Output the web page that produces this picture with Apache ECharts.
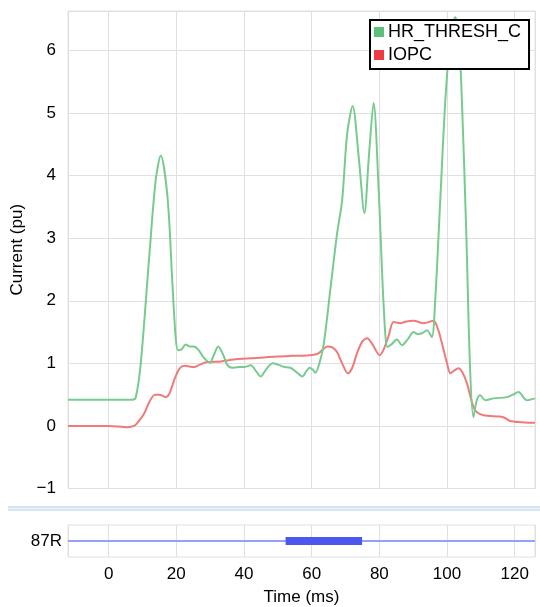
<!DOCTYPE html>
<html>
<head>
<meta charset="utf-8">
<script src="https://cdn.jsdelivr.net/npm/echarts@6/dist/echarts.min.js"></script>
<style>html,body{margin:0;padding:0;background:#fff}#c{width:540px;height:607px}</style>
</head>
<body>
<div id="c"></div>
<script>
var xMin = -12, xMax = 126;
var yMin = -1, yMax = 6.63;
var seriesNames = ['HR_THRESH_C', 'IOPC'];
var hrThreshC = [[-12,0.42],[0,0.42],[7,0.42],[8,0.45],[9.5,1.0],[12,2.7],[13.9,3.92],[15.4,4.32],[17.4,3.66],[18.8,2.33],[19.8,1.42],[20.5,1.21],[21.5,1.22],[22.8,1.30],[24,1.27],[25.2,1.27],[26.5,1.22],[28,1.1],[29.9,1.01],[31,1.12],[32.4,1.27],[34,1.12],[35,0.98],[36.5,0.93],[38.4,0.94],[40,0.94],[42,0.97],[43.5,0.88],[44.9,0.79],[46.5,0.9],[48.5,1.0],[50,0.98],[52,0.94],[53.7,0.93],[55.5,0.86],[57.2,0.79],[58.5,0.88],[59.4,0.93],[60.3,0.9],[61.1,0.85],[62.3,1.0],[63.6,1.32],[65.5,2.17],[67.5,3.07],[69,3.6],[70.5,4.67],[72.1,5.11],[73.9,4.3],[75.6,3.40],[76.9,4.3],[78.3,5.16],[79.8,3.77],[81.3,1.9],[82.4,1.26],[83.5,1.3],[85.2,1.38],[86.7,1.29],[88.6,1.40],[90.1,1.50],[91.3,1.47],[92.6,1.48],[94.1,1.53],[95.5,1.42],[96.5,2.0],[98,3.6],[99.5,5.2],[101,6.2],[102.4,6.53],[103.5,6.2],[104.4,5.2],[105.7,3.07],[106.8,0.94],[107.8,0.14],[108.8,0.41],[109.8,0.49],[111.3,0.41],[113.8,0.44],[117.7,0.46],[119.5,0.5],[121.1,0.54],[123.6,0.41],[126,0.44]];
var iopc = [[-12,0],[0,0],[5.6,-0.02],[7.5,0.0],[8.5,0.05],[10.5,0.2],[12,0.38],[13.7,0.5],[15,0.5],[16.9,0.46],[18,0.52],[19.5,0.75],[21,0.92],[22.5,0.96],[25.2,0.94],[27,0.98],[29.2,1.02],[33.1,1.03],[38,1.07],[44.9,1.09],[49.8,1.11],[54,1.12],[59.4,1.13],[62,1.16],[64.7,1.27],[66,1.26],[67.5,1.18],[69,1.0],[70.7,0.84],[72,0.93],[73.4,1.16],[75,1.35],[76.4,1.40],[78,1.3],[80.1,1.13],[81.5,1.25],[82.8,1.45],[84.2,1.66],[86.2,1.64],[88,1.67],[90.1,1.68],[93.1,1.64],[96,1.68],[97.3,1.55],[98.5,1.32],[100,1.0],[101,0.84],[102,0.88],[103.4,0.92],[104.6,0.85],[105.9,0.68],[107,0.45],[108.3,0.25],[110.8,0.17],[115.7,0.15],[117,0.13],[118.6,0.08],[122,0.06],[125.5,0.05],[126,0.05]];
var digitalLabel = ['87R'];
var digitalFull = [[-12,'87R'],[126,'87R']];
var digitalActive = [[52.3,'87R'],[74.9,'87R']];

var FONT = '"Liberation Sans", Arial, sans-serif';
var gridColor = '#e0e0e0';
var chart = echarts.init(document.getElementById('c'), null, {renderer:'canvas'});
chart.setOption({
  animation: false,
  backgroundColor: '#fff',
  textStyle: {fontFamily: FONT},
  graphic: [
    {type:'rect', shape:{x:8, y:506, width:532, height:5}, style:{fill:'#d5e3f4'}, silent:true},
    {type:'line', shape:{x1:8, y1:508.5, x2:540, y2:508.5}, style:{stroke:'#eef4fb', lineWidth:1}, silent:true}
  ],
  legend: {
    orient: 'vertical',
    left: 370, top: 20,
    padding: [3, 8, 5, 4],
    itemGap: 5,
    itemWidth: 10, itemHeight: 10,
    icon: 'rect',
    backgroundColor: '#fff',
    borderColor: '#000', borderWidth: 2, borderRadius: 0,
    textStyle: {fontSize: 18, color: '#000', fontFamily: FONT, lineHeight: 18, padding:[0,0,0,-1]},
    data: [
      {name: seriesNames[0], itemStyle: {color: '#5cbf7a'}},
      {name: seriesNames[1], itemStyle: {color: '#ee3b46'}}
    ]
  },
  grid: [
    {left: 68, top: 11, width: 467, height: 477.5, show: true, borderColor: gridColor, borderWidth: 1, containLabel: false},
    {left: 68, top: 525, width: 467, height: 32, show: true, borderColor: gridColor, borderWidth: 1, containLabel: false}
  ],
  xAxis: [
    {type: 'value', gridIndex: 0, min: xMin, max: xMax, splitNumber: 7,
     axisLine: {show: false}, axisTick: {show: false}, axisLabel: {show: false},
     splitLine: {show: true, lineStyle: {color: gridColor, width: 1}}},
    {type: 'value', gridIndex: 1, min: xMin, max: xMax, splitNumber: 7,
     axisLine: {show: false}, axisTick: {show: false},
     axisLabel: {show: true, fontSize: 17, color: '#000', margin: 9, showMinLabel: false, showMaxLabel: false, fontFamily: FONT},
     splitLine: {show: true, lineStyle: {color: gridColor, width: 1}},
     name: 'Time (ms)', nameLocation: 'middle', nameGap: 32,
     nameTextStyle: {fontSize: 17, color: '#000', fontFamily: FONT}}
  ],
  yAxis: [
    {type: 'value', gridIndex: 0, min: yMin, max: yMax, interval: 1,
     axisLine: {show: false}, axisTick: {show: false},
     axisLabel: {fontSize: 17, color: '#000', margin: 12, showMaxLabel: false, fontFamily: FONT,
       formatter: function(v){ return v < 0 ? '\u2212' + Math.abs(v) : String(v); }},
     splitLine: {show: true, lineStyle: {color: gridColor, width: 1}},
     name: 'Current (pu)', nameLocation: 'middle', nameGap: 39, nameRotate: 90,
     nameTextStyle: {fontSize: 17, color: '#000', fontFamily: FONT}},
    {type: 'category', gridIndex: 1, data: digitalLabel,
     axisLine: {show: false}, axisTick: {show: false},
     axisLabel: {fontSize: 17, color: '#000', margin: 6, fontFamily: FONT},
     splitLine: {show: false}}
  ],
  series: [
    {name: seriesNames[0], type: 'line', xAxisIndex: 0, yAxisIndex: 0, data: hrThreshC,
     smooth: 0.3, showSymbol: false, lineStyle: {color: '#78cb8f', width: 2}, itemStyle: {color: '#5cbf7a'}, z: 3},
    {name: seriesNames[1], type: 'line', xAxisIndex: 0, yAxisIndex: 0, data: iopc,
     smooth: 0.3, showSymbol: false, lineStyle: {color: '#f07a7a', width: 2}, itemStyle: {color: '#ee3b46'}, z: 2},
    {name: '87R_base', type: 'line', xAxisIndex: 1, yAxisIndex: 1, data: digitalFull,
     showSymbol: false, lineStyle: {color: '#93a2f6', width: 2}, z: 2},
    {name: '87R_on', type: 'line', xAxisIndex: 1, yAxisIndex: 1, data: digitalActive,
     showSymbol: false, lineStyle: {color: '#4a58ef', width: 8, cap: 'butt'}, z: 3}
  ]
});
</script>
</body>
</html>
